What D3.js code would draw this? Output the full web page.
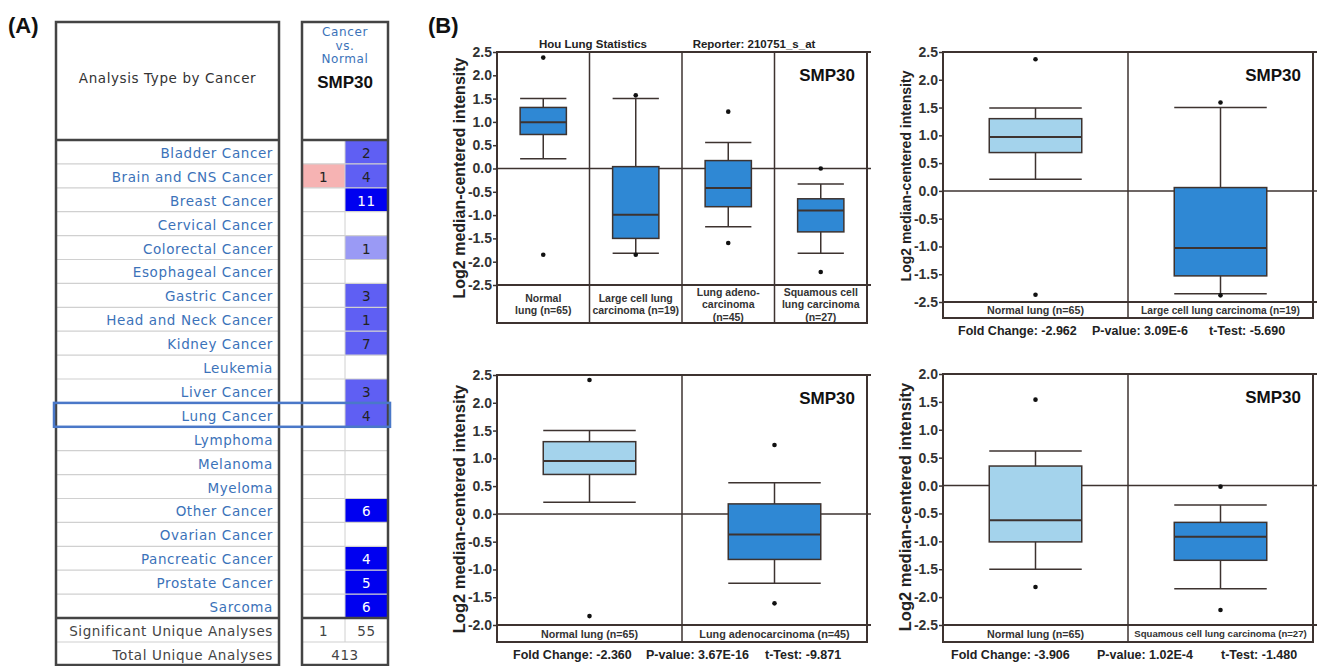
<!DOCTYPE html>
<html>
<head>
<meta charset="utf-8">
<script src="https://cdn.jsdelivr.net/npm/d3@7"></script>
<style>
  body { margin: 0; background: #fff; }
  svg { display: block; }
</style>
</head>
<body>
<svg id="chart" width="1321" height="666"></svg>
<script>
// ---------- panel A : Oncomine summary table ----------
const cancerTypes = ["Bladder Cancer", "Brain and CNS Cancer", "Breast Cancer", "Cervical Cancer",
  "Colorectal Cancer", "Esophageal Cancer", "Gastric Cancer", "Head and Neck Cancer", "Kidney Cancer",
  "Leukemia", "Liver Cancer", "Lung Cancer", "Lymphoma", "Melanoma", "Myeloma", "Other Cancer",
  "Ovarian Cancer", "Pancreatic Cancer", "Prostate Cancer", "Sarcoma"];
const overCounts  = [null, 1, null, null, null, null, null, null, null, null, null, null, null, null, null, null, null, null, null, null];
const underCounts = [2, 4, 11, null, 1, null, 3, 1, 7, null, 3, 4, null, null, null, 6, null, 4, 5, 6];
// gene rank threshold (top %) that sets the cell shade
const underRank   = [5, 5, 1, null, 10, null, 5, 5, 5, null, 5, 5, null, null, null, 1, null, 1, 1, 1];
const significantCounts = [1, 55];
const totalAnalyses = 413;
const highlighted = "Lung Cancer";

// ---------- panel B : Hou Lung box plots ----------
const houLabels = [["Normal", "lung (n=65)"], ["Large cell lung", "carcinoma (n=19)"],
  ["Lung adeno-", "carcinoma", "(n=45)"], ["Squamous cell", "lung carcinoma", "(n=27)"]];
// [low whisker, q1, median, q3, high whisker]
const houBoxes = [[0.21, 0.73, 0.99, 1.31, 1.5], [-1.82, -1.5, -0.99, 0.04, 1.5],
  [-1.25, -0.82, -0.42, 0.17, 0.56], [-1.82, -1.36, -0.9, -0.65, -0.33]];
const houOutliers = [[2.38, -1.85], [1.57, -1.85], [1.22, -1.6], [0.0, -2.22]];

const largeLabels = [["Normal lung (n=65)"], ["Large cell lung carcinoma (n=19)"]];
const largeBoxes = [[0.21, 0.69, 0.97, 1.3, 1.49], [-1.85, -1.53, -1.03, 0.06, 1.5]];
const largeOutliers = [[2.37, -1.87], [1.59, -1.88]];
const largeStats = ["Fold Change: -2.962", "P-value: 3.09E-6", "t-Test: -5.690"];

const adenoLabels = [["Normal lung (n=65)"], ["Lung adenocarcinoma (n=45)"]];
const adenoBoxes = [[0.21, 0.71, 0.95, 1.3, 1.5], [-1.25, -0.82, -0.37, 0.18, 0.56]];
const adenoOutliers = [[2.41, -1.84], [1.24, -1.61]];
const adenoStats = ["Fold Change: -2.360", "P-value: 3.67E-16", "t-Test: -9.871"];

const squamLabels = [["Normal lung (n=65)"], ["Squamous cell lung carcinoma (n=27)"]];
const squamBoxes = [[-1.5, -1.01, -0.62, 0.35, 0.62], [-1.85, -1.34, -0.92, -0.66, -0.35]];
const squamOutliers = [[1.54, -1.82], [-0.02, -2.23]];
const squamStats = ["Fold Change: -3.906", "P-value: 1.02E-4", "t-Test: -1.480"];

const ticksFull = [2.5, 2.0, 1.5, 1.0, 0.5, 0.0, -0.5, -1.0, -1.5, -2.0, -2.5];
const ticksTop  = [2.5, 2.0, 1.5, 1.0, 0.5, 0.0, -0.5, -1.0, -1.5, -2.0];
const ticksLow  = [2.0, 1.5, 1.0, 0.5, 0.0, -0.5, -1.0, -1.5, -2.0, -2.5];
// the large-cell panel prints "-2.5" on its last tick
const largeTickLabels = ["2.5", "2.0", "1.5", "1.0", "0.5", "0.0", "-0.5", "-1.0", "-1.5", "-2.5"];

const svg = d3.select("#chart");
const ink = "#3d3330";
const arial = "'Liberation Sans', Arial, sans-serif";
const lucida = "'DejaVu Sans', Verdana, sans-serif";

// panel letters
svg.append("text").attr("x", 8).attr("y", 33).text("(A)")
  .attr("font-family", arial).attr("font-weight", "bold").attr("font-size", 22).attr("fill", "#111");
svg.append("text").attr("x", 428).attr("y", 33).text("(B)")
  .attr("font-family", arial).attr("font-weight", "bold").attr("font-size", 22).attr("fill", "#111");

// ================= table =================
const tbl = svg.append("g");
const leftX = [56, 279], rightX = [302, 388], midX = 345;
const headTop = 22, headBottom = 140;
const rows = d3.scaleBand().domain(d3.range(cancerTypes.length)).range([headBottom, 618]);
const sigY = [618, 642], totY = [642, 665];
const rankColor = d3.scaleOrdinal().domain([1, 5, 10]).range(["#0000f0", "#5f5ff3", "#9a9af5"]);

const tText = sel => sel.attr("font-family", lucida).attr("font-size", 13.5)
  .attr("letter-spacing", 0.6).attr("dominant-baseline", "central");

// cell fills
tbl.selectAll("rect.under")
  .data(underCounts.map((d, i) => ({ v: d, i })).filter(d => d.v != null))
  .join("rect")
  .attr("x", midX).attr("y", d => rows(d.i))
  .attr("width", rightX[1] - midX).attr("height", rows.bandwidth())
  .attr("fill", d => rankColor(underRank[d.i]));
tbl.selectAll("rect.over")
  .data(overCounts.map((d, i) => ({ v: d, i })).filter(d => d.v != null))
  .join("rect")
  .attr("x", rightX[0]).attr("y", d => rows(d.i))
  .attr("width", midX - rightX[0]).attr("height", rows.bandwidth())
  .attr("fill", "#f6b3b3");

// row separators
const rowLines = rows.domain().slice(1).map(i => rows(i)).concat([sigY[1]]);
rowLines.forEach(y => {
  tbl.append("line").attr("x1", leftX[0]).attr("x2", leftX[1]).attr("y1", y).attr("y2", y)
    .attr("stroke", "#d0d0d0").attr("stroke-width", 1.2);
  tbl.append("line").attr("x1", rightX[0]).attr("x2", rightX[1]).attr("y1", y).attr("y2", y)
    .attr("stroke", "#d0d0d0").attr("stroke-width", 1.2);
});
tbl.append("line").attr("x1", midX).attr("x2", midX).attr("y1", headBottom).attr("y2", sigY[1])
  .attr("stroke", "#d0d0d0");

// thick borders
[leftX, rightX].forEach(xs => {
  tbl.append("rect").attr("x", xs[0]).attr("y", headTop).attr("width", xs[1] - xs[0])
    .attr("height", totY[1] - headTop).attr("fill", "none").attr("stroke", "#444").attr("stroke-width", 2.5);
  [headBottom, sigY[0]].forEach(y => {
    tbl.append("line").attr("x1", xs[0]).attr("x2", xs[1]).attr("y1", y).attr("y2", y)
      .attr("stroke", "#444").attr("stroke-width", 2.5);
  });
});

// header text
tbl.append("text").attr("x", (leftX[0] + leftX[1]) / 2).attr("y", 78).text("Analysis Type by Cancer")
  .attr("text-anchor", "middle").call(tText).attr("fill", "#333");
["Cancer", "vs.", "Normal"].forEach((t, i) => {
  tbl.append("text").attr("x", midX).attr("y", 32 + i * 13.5).text(t)
    .attr("text-anchor", "middle").call(tText).attr("font-size", 12).attr("fill", "#3b72b9");
});
tbl.append("text").attr("x", midX).attr("y", 82).text("SMP30")
  .attr("text-anchor", "middle").attr("dominant-baseline", "central")
  .attr("font-family", arial).attr("font-weight", "bold").attr("font-size", 17).attr("fill", "#111");

// row names
tbl.selectAll("text.cancer").data(cancerTypes).join("text")
  .attr("x", 273).attr("y", (d, i) => rows(i) + rows.bandwidth() / 2 + 1)
  .attr("text-anchor", "end").call(tText).attr("fill", "#3b72b9")
  .text(d => d);

// cell numbers
tbl.selectAll("text.under")
  .data(underCounts.map((d, i) => ({ v: d, i })).filter(d => d.v != null))
  .join("text")
  .attr("x", (midX + rightX[1]) / 2).attr("y", d => rows(d.i) + rows.bandwidth() / 2 + 1)
  .attr("text-anchor", "middle").call(tText)
  .attr("fill", d => underRank[d.i] === 1 ? "#fff" : "#222")
  .text(d => d.v);
tbl.selectAll("text.over")
  .data(overCounts.map((d, i) => ({ v: d, i })).filter(d => d.v != null))
  .join("text")
  .attr("x", (rightX[0] + midX) / 2).attr("y", d => rows(d.i) + rows.bandwidth() / 2 + 1)
  .attr("text-anchor", "middle").call(tText).attr("fill", "#222")
  .text(d => d.v);

// summary rows
const sumRow = (label, y) => tbl.append("text").attr("x", 273).attr("y", y).text(label)
  .attr("text-anchor", "end").call(tText).attr("fill", "#444");
sumRow("Significant Unique Analyses", (sigY[0] + sigY[1]) / 2 + 1);
sumRow("Total Unique Analyses", (totY[0] + totY[1]) / 2 + 1);
[(rightX[0] + midX) / 2, (midX + rightX[1]) / 2].forEach((x, i) => {
  tbl.append("text").attr("x", x).attr("y", (sigY[0] + sigY[1]) / 2 + 1).text(significantCounts[i])
    .attr("text-anchor", "middle").call(tText).attr("fill", "#444");
});
tbl.append("text").attr("x", midX).attr("y", (totY[0] + totY[1]) / 2 + 1).text(totalAnalyses)
  .attr("text-anchor", "middle").call(tText).attr("fill", "#444");

// highlight box on lung row
const hi = cancerTypes.indexOf(highlighted);
tbl.append("rect").attr("x", 54).attr("y", rows(hi)).attr("width", 336).attr("height", rows.bandwidth())
  .attr("fill", "none").attr("stroke", "#4a78c8").attr("stroke-width", 2.5);

// ================= box plots =================
const darkBlue = "#2f88d4", lightBlue = "#a4d3ec";

function drawPanel(p) {
  const g = svg.append("g");
  const y = d3.scaleLinear().domain(p.domain).range([p.yMin, p.yTop]);
  const x = d3.scaleBand().domain(d3.range(p.labels.length)).range([p.x0, p.x1]);
  const boxW = x.bandwidth() * 0.5;

  // frame
  g.append("rect").attr("x", p.x0).attr("y", p.yTop).attr("width", p.x1 - p.x0)
    .attr("height", p.yBot - p.yTop).attr("fill", "none").attr("stroke", ink).attr("stroke-width", 2);
  g.append("line").attr("x1", p.x1).attr("x2", p.x1 + 4).attr("y1", p.yTop).attr("y2", p.yTop)
    .attr("stroke", ink).attr("stroke-width", 2);
  [0, p.domain[0]].forEach(v => {
    g.append("line").attr("x1", p.x0).attr("x2", p.x1 + 4).attr("y1", y(v)).attr("y2", y(v))
      .attr("stroke", ink).attr("stroke-width", v === 0 ? 1.5 : 2);
  });
  x.domain().slice(1).forEach(i => {
    g.append("line").attr("x1", x(i)).attr("x2", x(i)).attr("y1", p.yTop).attr("y2", p.yBot)
      .attr("stroke", ink).attr("stroke-width", 1.5);
  });

  // axis
  const axis = d3.axisLeft(y).tickValues(p.ticks).tickSize(4).tickPadding(1)
    .tickFormat((d, i) => p.tickLabels ? p.tickLabels[i] : d.toFixed(1));
  const ag = g.append("g").attr("transform", `translate(${p.x0},0)`).call(axis);
  ag.select(".domain").remove();
  ag.selectAll(".tick line").attr("stroke", ink).attr("stroke-width", 1.5);
  ag.selectAll(".tick text").attr("font-family", arial).attr("font-weight", "bold")
    .attr("font-size", 14).attr("fill", "#333");

  g.append("text").attr("transform", `translate(${p.labelX},${p.labelY}) rotate(-90)`)
    .text("Log2 median-centered intensity")
    .attr("text-anchor", "middle").attr("dominant-baseline", "central")
    .attr("font-family", arial).attr("font-weight", "bold").attr("font-size", p.labelSize).attr("fill", "#222");

  // boxes
  p.boxes.forEach((b, i) => {
    const cx = x(i) + x.bandwidth() / 2;
    const [lo, q1, med, q3, hiW] = b;
    g.append("line").attr("x1", cx).attr("x2", cx).attr("y1", y(hiW)).attr("y2", y(lo))
      .attr("stroke", ink).attr("stroke-width", 1.5);
    [lo, hiW].forEach(v => {
      g.append("line").attr("x1", cx - boxW / 2).attr("x2", cx + boxW / 2).attr("y1", y(v)).attr("y2", y(v))
        .attr("stroke", ink).attr("stroke-width", 1.5);
    });
    g.append("rect").attr("x", cx - boxW / 2).attr("y", y(q3)).attr("width", boxW)
      .attr("height", y(q1) - y(q3)).attr("fill", p.fills[i]).attr("stroke", ink).attr("stroke-width", 1.5);
    g.append("line").attr("x1", cx - boxW / 2).attr("x2", cx + boxW / 2).attr("y1", y(med)).attr("y2", y(med))
      .attr("stroke", ink).attr("stroke-width", 2);
    g.selectAll(null).data(p.outliers[i]).join("circle")
      .attr("cx", cx).attr("cy", d => y(d)).attr("r", 2.3).attr("fill", "#111");

    // category label
    const lines = p.labels[i];
    const mid = (y(p.domain[0]) + p.yBot) / 2;
    lines.forEach((t, k) => {
      g.append("text").attr("x", cx).attr("y", mid + (k - (lines.length - 1) / 2) * p.lineGap).text(t)
        .attr("text-anchor", "middle").attr("dominant-baseline", "central")
        .attr("font-family", arial).attr("font-weight", "bold").attr("font-size", p.catSize[i]).attr("fill", "#333");
    });
  });

  g.append("text").attr("x", p.x1 - 12).attr("y", p.yTop + 23).text("SMP30")
    .attr("text-anchor", "end").attr("dominant-baseline", "central")
    .attr("font-family", arial).attr("font-weight", "bold").attr("font-size", 17).attr("fill", "#111");

  if (p.stats) {
    p.stats.forEach((t, k) => {
      g.append("text").attr("x", p.statX[k]).attr("y", p.yBot + 13).text(t)
        .attr("dominant-baseline", "central")
        .attr("font-family", arial).attr("font-weight", "bold").attr("font-size", 12.5).attr("fill", "#222");
    });
  }
  return g;
}

const p1 = drawPanel({ x0: 497, x1: 867, yTop: 52, yMin: 285, yBot: 323, domain: [-2.5, 2.5],
  ticks: ticksFull, labels: houLabels, boxes: houBoxes, outliers: houOutliers,
  fills: [darkBlue, darkBlue, darkBlue, darkBlue], labelX: 459, labelY: 178, labelSize: 16,
  catSize: [10.5, 10.5, 10.5, 10.5], lineGap: 12.5 });
p1.append("text").attr("x", 593).attr("y", 44).text("Hou Lung Statistics")
  .attr("text-anchor", "middle").attr("dominant-baseline", "central")
  .attr("font-family", arial).attr("font-weight", "bold").attr("font-size", 11.5).attr("fill", "#222");
p1.append("text").attr("x", 754).attr("y", 44).text("Reporter: 210751_s_at")
  .attr("text-anchor", "middle").attr("dominant-baseline", "central")
  .attr("font-family", arial).attr("font-weight", "bold").attr("font-size", 11.5).attr("fill", "#222");

drawPanel({ x0: 943, x1: 1313, yTop: 52, yMin: 302, yBot: 318, domain: [-2.0, 2.5],
  ticks: ticksTop, tickLabels: largeTickLabels, labels: largeLabels, boxes: largeBoxes, outliers: largeOutliers,
  fills: [lightBlue, darkBlue], labelX: 906, labelY: 176, labelSize: 14, catSize: [10.7, 10.2], lineGap: 12,
  stats: largeStats, statX: [958, 1092, 1209] });

drawPanel({ x0: 497, x1: 867, yTop: 375, yMin: 625, yBot: 642, domain: [-2.0, 2.5],
  ticks: ticksTop, labels: adenoLabels, boxes: adenoBoxes, outliers: adenoOutliers,
  fills: [lightBlue, darkBlue], labelX: 459, labelY: 509, labelSize: 16.5, catSize: [10.7, 10.8], lineGap: 12,
  stats: adenoStats, statX: [513, 646, 765] });

drawPanel({ x0: 943, x1: 1313, yTop: 374, yMin: 625, yBot: 642, domain: [-2.5, 2.0],
  ticks: ticksLow, labels: squamLabels, boxes: squamBoxes, outliers: squamOutliers,
  fills: [lightBlue, darkBlue], labelX: 905, labelY: 507, labelSize: 16.5, catSize: [10.7, 9.6], lineGap: 12,
  stats: squamStats, statX: [951, 1097, 1221] });
</script>
</body>
</html>
